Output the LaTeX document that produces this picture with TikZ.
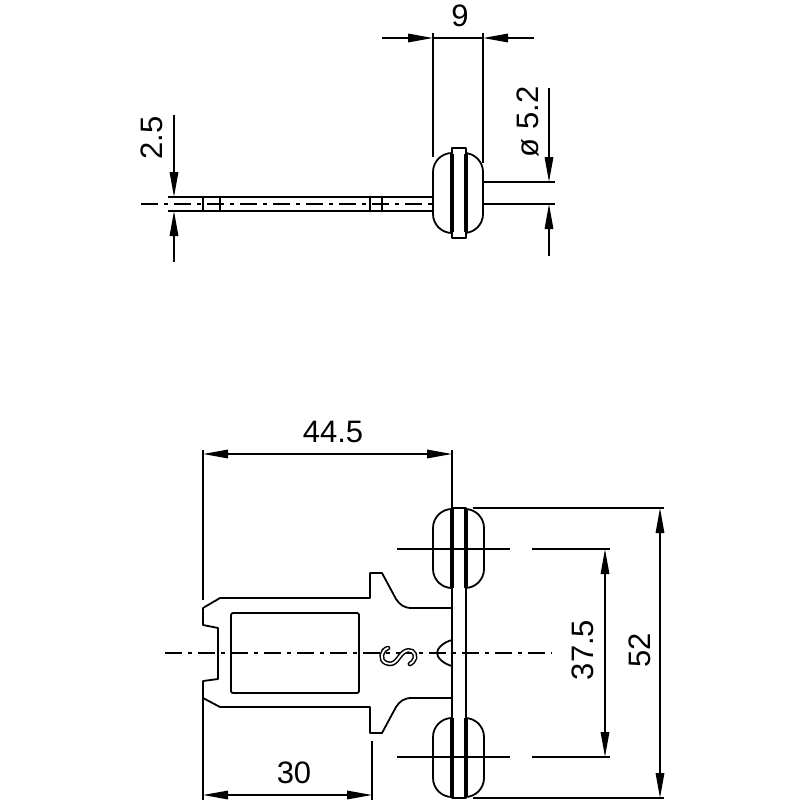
\documentclass[tikz,border=0pt]{standalone}
\usepackage{fontspec}
\setmainfont{Liberation Sans}
\usetikzlibrary{arrows.meta}

\begin{document}
\begin{tikzpicture}
    [
        x = 1pt, y = -1pt,
        outline/.style = {
            draw=black, line width=1.8pt, line join=round
            },
        heavy/.style = {
            draw=black, line width=3.4pt
            },
        extline/.style = {
            draw=black, line width=1.6pt
            },
        centerline/.style = {
            draw=black, line width=1.6pt,
            dash pattern=on 17pt off 6pt on 4pt off 6pt
            },
        dimline/.style = {
            draw=black, line width=1.6pt,
            arrows={-{Triangle[length=25pt,width=8.5pt]}}
            },
        dimboth/.style = {
            draw=black, line width=1.6pt,
            arrows={{Triangle[length=25pt,width=8.5pt]}-{Triangle[length=25pt,width=8.5pt]}}
            },
        dimlabel/.style = {
            inner sep=0pt, font=\fontsize{31}{33}\selectfont
            },
    ]
    \useasboundingbox (0,0) rectangle (800,800);

    % side view
    \draw[centerline] (141,204) -- (432,204);
    \draw[outline] (168,197) -- (433,197);
    \draw[outline] (168,211) -- (433,211);
    \foreach \xpos in {203,220,370,382} {
        \draw[outline] (\xpos,197) -- (\xpos,211);
    }
    \draw[outline, fill=white, rounded corners=19pt] (433,153) rectangle (483,233);
    \draw[outline, fill=white] (452,148) rectangle (466,238);
    \draw[heavy] (452,154) -- (452,232);
    \draw[heavy] (466,154) -- (466,232);
    \draw[extline] (483,182) -- (555,182);
    \draw[extline] (483,204) -- (555,204);

    % front view
    \draw[outline] (452,608) -- (412,608)
        .. controls (404,608) and (400,605) .. (396,599)
        -- (382,573) -- (370,573) -- (370,598) -- (220,598)
        -- (203,608) -- (203,625) -- (218,628) -- (218,679)
        -- (203,681) -- (203,698) -- (220,707) -- (370,707)
        -- (370,733) -- (382,733) -- (396,707)
        .. controls (400,701) and (404,698) .. (412,698)
        -- (452,698);
    \draw[outline, rounded corners=2pt] (231,613) rectangle (359,693);
    \foreach \ypos in {509,718} {
        \draw[outline, rounded corners=19pt] (433,\ypos) rectangle (484,\ypos+79);
    }
    \draw[outline, fill=white] (452,508) rectangle (466,798);
    \foreach \ypos in {509,718} {
        \draw[heavy] (452,\ypos) -- (452,\ypos+79);
        \draw[heavy] (466,\ypos) -- (466,\ypos+79);
    }
    \draw[centerline] (165,653) -- (552,653);
    \draw[outline] (452,640)
        .. controls (444,642) and (437,648) .. (437,653)
        .. controls (437,658) and (444,664) .. (452,666);
    \draw[draw=black, line width=1.5pt, double=white, double distance=1.8pt, line cap=round]
        (388,648) .. controls (381,650) and (379,660) .. (386,663)
        .. controls (396,667) and (398,656) .. (404,652)
        .. controls (410,648) and (416,652) .. (415,658)
        .. controls (414,661) and (412,663) .. (410,664);
    \foreach \ypos in {549,757} {
        \draw[extline] (397,\ypos) -- (510,\ypos);
        \draw[extline] (532,\ypos) -- (610,\ypos);
    }
    \draw[extline] (473,508) -- (664,508);
    \draw[extline] (473,798) -- (664,798);

    % dimensions
    \node[dimlabel] (width label) at (460,16) {9};
    \draw[extline] (433,33) -- (433,157);
    \draw[extline] (483,33) -- (483,163);
    \draw[extline] (433,38) -- (483,38);
    \draw[dimline] (382,38) -- (433,38);
    \draw[dimline] (534,38) -- (483,38);

    \node[dimlabel, rotate=90] (shaft label) at (152,138) {2.5};
    \draw[dimline] (174,115) -- (174,197);
    \draw[dimline] (174,262) -- (174,211);

    \node[dimlabel, rotate=90] (roller label) at (528,122) {ø 5.2};
    \draw[dimline] (549,88) -- (549,182);
    \draw[dimline] (549,256) -- (549,204);

    \node[dimlabel] (total label) at (333,432) {44.5};
    \draw[extline] (203,450) -- (203,600);
    \draw[extline] (452,450) -- (452,508);
    \draw[dimboth] (203,454) -- (452,454);

    \node[dimlabel] (body label) at (294,773) {30};
    \draw[extline] (203,698) -- (203,800);
    \draw[extline] (372,741) -- (372,800);
    \draw[dimboth] (203,795) -- (372,795);

    \node[dimlabel, rotate=90] (pitch label) at (583,650) {37.5};
    \draw[dimboth] (605,549) -- (605,757);

    \node[dimlabel, rotate=90] (height label) at (640,650) {52};
    \draw[dimboth] (660,508) -- (660,798);
\end{tikzpicture}
\end{document}
